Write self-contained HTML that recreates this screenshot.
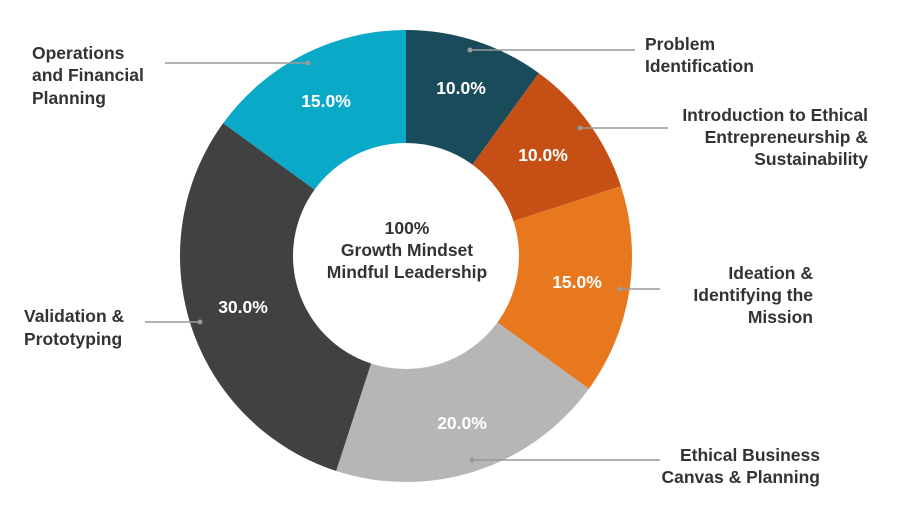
<!DOCTYPE html>
<html><head><meta charset="utf-8"><style>
html,body{margin:0;padding:0;background:#fff}
svg{display:block}
text{font-family:"Liberation Sans",Arial,sans-serif;font-weight:bold;font-size:17.5px}
</style></head><body>
<svg id="s" width="902" height="512" viewBox="0 0 902 512" xmlns="http://www.w3.org/2000/svg">
<g id="arcs"></g>
<g fill="#fff" text-anchor="middle">
<text x="461" y="94">10.0%</text>
<text x="543" y="161">10.0%</text>
<text x="577" y="288">15.0%</text>
<text x="462" y="429">20.0%</text>
<text x="243" y="313">30.0%</text>
<text x="326" y="107">15.0%</text>
</g>
<g fill="#333" text-anchor="middle">
<text x="407" y="234">100%</text>
<text x="407" y="256">Growth Mindset</text>
<text x="407" y="278">Mindful Leadership</text>
</g>
<g stroke="#999" stroke-width="1.5">
<line x1="470" y1="50" x2="635" y2="50"/>
<line x1="580" y1="128" x2="668" y2="128"/>
<line x1="620" y1="289" x2="660" y2="289"/>
<line x1="472" y1="460" x2="660" y2="460"/>
<line x1="165" y1="63" x2="308" y2="63"/>
<line x1="145" y1="322" x2="200" y2="322"/>
</g>
<g fill="#999">
<circle cx="470" cy="50" r="2.5"/><circle cx="580" cy="128" r="2.5"/><circle cx="620" cy="289" r="2.5"/>
<circle cx="472" cy="460" r="2.5"/><circle cx="308" cy="63" r="2.5"/><circle cx="200" cy="322" r="2.5"/>
</g>
<g fill="#333">
<text x="645" y="50">Problem</text>
<text x="645" y="72">Identification</text>
<g text-anchor="end">
<text x="868" y="121">Introduction to Ethical</text>
<text x="868" y="143">Entrepreneurship &amp;</text>
<text x="868" y="165">Sustainability</text>
<text x="813" y="279">Ideation &amp;</text>
<text x="813" y="301">Identifying the</text>
<text x="813" y="323">Mission</text>
<text x="820" y="461">Ethical Business</text>
<text x="820" y="483">Canvas &amp; Planning</text>
</g>
<text x="32" y="59">Operations</text>
<text x="32" y="81">and Financial</text>
<text x="32" y="104">Planning</text>
<text x="24" y="322">Validation &amp;</text>
<text x="24" y="345">Prototyping</text>
</g>
</svg>
<script>
(function(){
var cx=406,cy=256,R=226,r=113;
var d=[[.1,"#1a4b5b"],[.1,"#c54f14"],[.15,"#e8781e"],[.2,"#b6b6b6"],[.3,"#414141"],[.15,"#0aa9c8"]];
var a=0,g=document.getElementById("arcs"),h="";
function p(rad,f){var t=f*2*Math.PI;return [(cx+rad*Math.sin(t)).toFixed(2),(cy-rad*Math.cos(t)).toFixed(2)];}
d.forEach(function(s){var b=a+s[0],l=s[0]>.5?1:0;
var p1=p(R,a),p2=p(R,b),p3=p(r,b),p4=p(r,a);
h+='<path fill="'+s[1]+'" d="M'+p1+' A'+R+' '+R+' 0 '+l+' 1 '+p2+' L'+p3+' A'+r+' '+r+' 0 '+l+' 0 '+p4+' Z"/>';
a=b;});
g.innerHTML=h;
})();
</script>
</body></html>
